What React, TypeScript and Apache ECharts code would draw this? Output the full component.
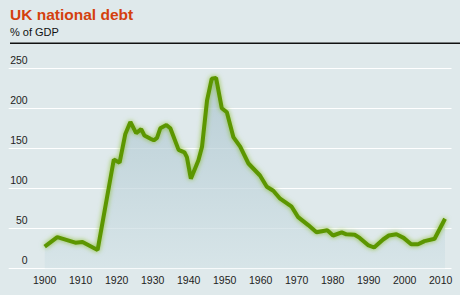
import React, { useEffect, useRef } from "react";
import * as echarts from "echarts";

const years = [
  1900, 1903.5, 1908.5, 1910.5, 1914.7, 1919.2, 1920.8, 1922.4, 1923.8, 1925.4,
  1926.8, 1927.7, 1929.4, 1930.3, 1931.2, 1932.1, 1933.8, 1934.9, 1937.2, 1938.8,
  1939.5, 1940.6, 1942.7, 1943.7, 1945.1, 1946.4, 1947.6, 1949.2, 1950.6, 1952.4,
  1954.3, 1956.6, 1959.8, 1961.7, 1963.5, 1965.4, 1968.6, 1970.4, 1973.2, 1975.5,
  1978.5, 1980.1, 1982.5, 1983.8, 1986.1, 1987.5, 1989.8, 1991.5, 1994, 1995.6,
  1997.7, 1999.7, 2001.8, 2003.7, 2005.5, 2008.3, 2011.2,
];
const debtPctGdp = [
  27, 39, 32, 33, 23, 136, 132, 168, 183, 169,
  174, 166, 162, 160, 163, 175, 179, 175, 148, 145,
  139, 112, 135, 152, 210, 237, 238, 200, 195, 164,
  152, 131, 116, 102, 97, 87, 77, 64, 54, 45,
  47.5, 41, 45, 42.5, 42, 38, 29, 26, 36, 41,
  42.5, 38, 30, 30, 34, 37, 62,
];
const yTicks = [0, 50, 100, 150, 200, 250];
const xTickYears = [1900, 1910, 1920, 1930, 1940, 1950, 1960, 1970, 1980, 1990, 2000, 2010];

const title = "UK national debt";
const subtitle = "% of GDP";

export default function App() {
  const ref = useRef<HTMLDivElement>(null);
  useEffect(() => {
    if (!ref.current) return;
    const chart = echarts.init(ref.current, undefined, { renderer: "svg" });
    const font = "'Liberation Sans', Arial, sans-serif";
    chart.setOption({
      animation: false,
      backgroundColor: "#dfe9eb",
      textStyle: { fontFamily: font },
      graphic: [
        {
          type: "text",
          left: 10,
          top: 6,
          style: {
            text: title,
            fill: "#d4400e",
            font: `bold 15.5px ${font}`,
          },
        },
        {
          type: "text",
          left: 10,
          top: 26,
          style: {
            text: subtitle,
            fill: "#111",
            font: `11px ${font}`,
          },
        },
        {
          type: "line",
          shape: { x1: 10, y1: 43.3, x2: 460, y2: 43.3 },
          style: { stroke: "#111", lineWidth: 1.5 },
        },
      ],
      grid: { left: 8.7, right: 8.5, top: 68.3, bottom: 26.7 },
      xAxis: {
        type: "value",
        min: 1890,
        max: 2013,
        interval: 10,
        axisLine: { show: false },
        axisTick: { show: false },
        splitLine: { show: false },
        axisLabel: {
          margin: 6,
          color: "#222",
          fontSize: 10.5,
          fontFamily: font,
          formatter: (v: number) => (xTickYears.includes(v) ? String(v) : ""),
        },
      },
      yAxis: {
        type: "value",
        min: yTicks[0],
        max: yTicks[yTicks.length - 1],
        interval: 50,
        axisLine: { show: false },
        axisTick: { show: false },
        splitLine: { lineStyle: { color: "#ffffff", width: 1.2 } },
        axisLabel: {
          inside: true,
          align: "right",
          verticalAlign: "bottom",
          margin: 19,
          padding: [0, 0, 3, 0],
          color: "#222",
          fontSize: 10.5,
          fontFamily: font,
        },
      },
      series: [
        {
          type: "line",
          data: years.map((y, i) => [y, debtPctGdp[i]]),
          symbol: "none",
          lineStyle: {
            color: "#5c9606",
            width: 4,
            shadowColor: "rgba(120,180,10,0.75)",
            shadowBlur: 5,
          },
          areaStyle: {
            color: new echarts.graphic.LinearGradient(0, 0, 0, 1, [
              { offset: 0, color: "#a9c3cd" },
              { offset: 1, color: "#d4e3e7" },
            ]),
          },
          z: 3,
        },
      ],
    });
    return () => chart.dispose();
  }, []);
  return (
    <div
      ref={ref}
      style={{ position: "fixed", left: 0, top: 0, width: 460, height: 295, background: "#dfe9eb" }}
    />
  );
}
